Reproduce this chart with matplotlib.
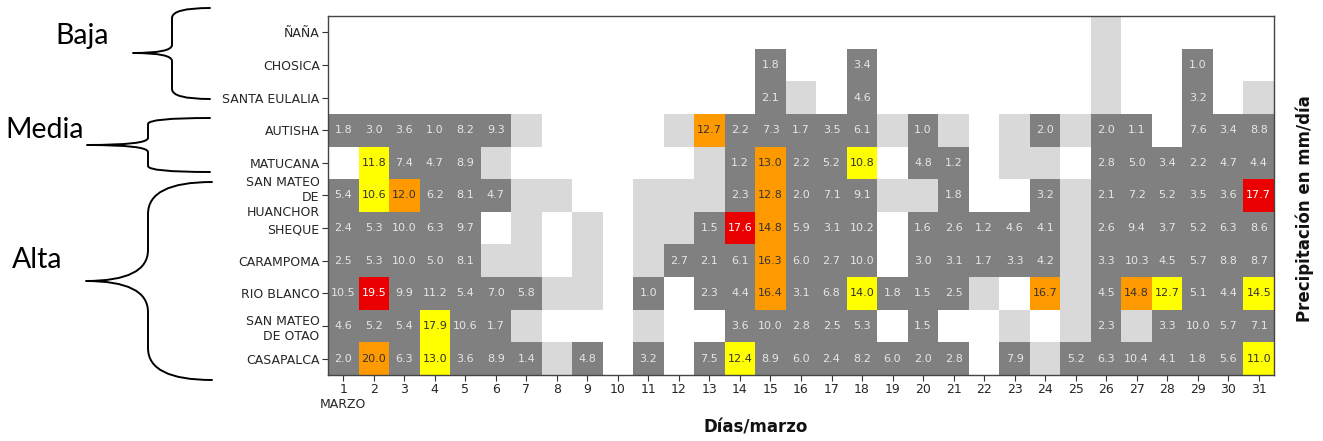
import numpy as np
import matplotlib
matplotlib.use("Agg")
import matplotlib.pyplot as plt
from matplotlib.colors import ListedColormap, BoundaryNorm
from matplotlib.path import Path
from matplotlib.patches import PathPatch

nan = np.nan

stations = ["ÑAÑA", "CHOSICA", "SANTA EULALIA", "AUTISHA", "MATUCANA",
            "SAN MATEO\nDE\nHUANCHOR", "SHEQUE", "CARAMPOMA", "RIO BLANCO",
            "SAN MATEO\nDE OTAO", "CASAPALCA"]
days = list(range(1, 32))

# nan = sin dato (blanco), 0 = sin lluvia (gris claro)
nana = [nan]*25 + [0] + [nan]*5
chosica = [nan]*14 + [1.8, nan, nan, 3.4] + [nan]*7 + [0, nan, nan, 1.0, nan, nan]
santa_eulalia = [nan]*14 + [2.1, 0, nan, 4.6] + [nan]*7 + [0, nan, nan, 3.2, nan, 0]
autisha = [1.8, 3.0, 3.6, 1.0, 8.2, 9.3, 0, nan, nan, nan, nan, 0, 12.7, 2.2, 7.3, 1.7,
           3.5, 6.1, 0, 1.0, 0, nan, 0, 2.0, 0, 2.0, 1.1, nan, 7.6, 3.4, 8.8]
matucana = [nan, 11.8, 7.4, 4.7, 8.9, 0, nan, nan, nan, nan, nan, nan, 0, 1.2, 13.0, 2.2,
            5.2, 10.8, nan, 4.8, 1.2, nan, 0, 0, nan, 2.8, 5.0, 3.4, 2.2, 4.7, 4.4]
huanchor = [5.4, 10.6, 12.0, 6.2, 8.1, 4.7, 0, 0, nan, nan, 0, 0, 0, 2.3, 12.8, 2.0,
            7.1, 9.1, 0, 0, 1.8, nan, nan, 3.2, 0, 2.1, 7.2, 5.2, 3.5, 3.6, 17.7]
sheque = [2.4, 5.3, 10.0, 6.3, 9.7, nan, 0, nan, 0, nan, 0, 0, 1.5, 17.6, 14.8, 5.9,
          3.1, 10.2, nan, 1.6, 2.6, 1.2, 4.6, 4.1, 0, 2.6, 9.4, 3.7, 5.2, 6.3, 8.6]
carampoma = [2.5, 5.3, 10.0, 5.0, 8.1, 0, 0, nan, 0, nan, 0, 2.7, 2.1, 6.1, 16.3, 6.0,
             2.7, 10.0, nan, 3.0, 3.1, 1.7, 3.3, 4.2, 0, 3.3, 10.3, 4.5, 5.7, 8.8, 8.7]
rio_blanco = [10.5, 19.5, 9.9, 11.2, 5.4, 7.0, 5.8, 0, 0, nan, 1.0, nan, 2.3, 4.4, 16.4, 3.1,
              6.8, 14.0, 1.8, 1.5, 2.5, 0, nan, 16.7, 0, 4.5, 14.8, 12.7, 5.1, 4.4, 14.5]
otao = [4.6, 5.2, 5.4, 17.9, 10.6, 1.7, 0, nan, nan, nan, 0, nan, nan, 3.6, 10.0, 2.8,
        2.5, 5.3, nan, 1.5, nan, nan, 0, nan, 0, 2.3, 0, 3.3, 10.0, 5.7, 7.1]
casapalca = [2.0, 20.0, 6.3, 13.0, 3.6, 8.9, 1.4, 0, 4.8, nan, 3.2, nan, 7.5, 12.4, 8.9, 6.0,
             2.4, 8.2, 6.0, 2.0, 2.8, nan, 7.9, 0, 5.2, 6.3, 10.4, 4.1, 1.8, 5.6, 11.0]

values = [nana, chosica, santa_eulalia, autisha, matucana, huanchor, sheque,
          carampoma, rio_blanco, otao, casapalca]

# resaltados: fila -> {día: clase}  (Y amarillo, O naranja, R rojo)
highlights = {
    3: {13: "O"},
    4: {2: "Y", 15: "O", 18: "Y"},
    5: {2: "Y", 3: "O", 15: "O", 31: "R"},
    6: {14: "R", 15: "O"},
    7: {15: "O"},
    8: {2: "R", 15: "O", 18: "Y", 24: "O", 27: "O", 28: "Y", 31: "Y"},
    9: {4: "Y"},
    10: {2: "O", 4: "Y", 14: "Y", 31: "Y"},
}

class_code = {"Y": 3, "O": 4, "R": 5}
colors = ["#ffffff", "#d9d9d9", "#808080", "#ffff00", "#ff9900", "#ea0000"]
text_colors = {2: "#e6e6e6", 3: "#333333", 4: "#333333", 5: "#ffffff"}

vals = np.array(values, dtype=float)
codes = np.zeros_like(vals)
for i in range(vals.shape[0]):
    for j in range(vals.shape[1]):
        v = vals[i, j]
        if np.isnan(v):
            codes[i, j] = 0
        elif v == 0:
            codes[i, j] = 1
        else:
            codes[i, j] = 2
    for d, c in highlights.get(i, {}).items():
        codes[i, d - 1] = class_code[c]

W, H = 1323, 441
fig = plt.figure(figsize=(W / 100, H / 100), dpi=100)
ax = fig.add_axes([328 / W, 1 - 375 / H, (1274 - 328) / W, (375 - 16) / H])

cmap = ListedColormap(colors)
norm = BoundaryNorm(np.arange(-0.5, 6.5, 1), cmap.N)
xe = np.arange(0.5, 32.5, 1)
ye = np.arange(-0.5, len(stations) + 0.5, 1)
ax.pcolormesh(xe, ye, codes, cmap=cmap, norm=norm)
ax.set_xlim(0.5, 31.5)
ax.set_ylim(len(stations) - 0.5, -0.5)

for i in range(vals.shape[0]):
    for j in range(vals.shape[1]):
        c = int(codes[i, j])
        if c >= 2:
            ax.text(days[j], i, f"{vals[i, j]:.1f}", ha="center", va="center",
                    fontsize=8, color=text_colors[c])

ax.set_yticks(range(len(stations)))
ax.set_yticklabels(stations, fontsize=9, color="#262626", multialignment="right")
ax.set_xticks(days)
xl = [str(d) for d in days]
xl[0] = "1\nMARZO"
ax.set_xticklabels(xl, fontsize=9, color="#262626", va="top")
ax.tick_params(axis="both", length=4, width=0.8, color="#333333", pad=2)
for s in ax.spines.values():
    s.set_color("#444444")
    s.set_linewidth(1.0)

# etiquetas de ejes
fig.text(756 / W, 1 - 428 / H, "Días/marzo", ha="center", va="center",
         fontsize=12, fontweight="bold", color="#111111")
fig.text(1305 / W, 1 - 209 / H, "Precipitación en mm/día", ha="center", va="center",
         rotation=90, fontsize=12, fontweight="bold", color="#111111")

# capa de anotaciones en píxeles
ov = fig.add_axes([0, 0, 1, 1], facecolor="none")
ov.set_xlim(0, W)
ov.set_ylim(H, 0)
ov.axis("off")


def brace(x_end, x_mid, x_tip, y_top, y_tip, y_bot, r1, r2):
    verts = [(x_end, y_top), (x_mid, y_top), (x_mid, y_top + r1),
             (x_mid, y_tip - r2), (x_mid, y_tip), (x_tip, y_tip),
             (x_mid, y_tip), (x_mid, y_tip + r2),
             (x_mid, y_bot - r1), (x_mid, y_bot), (x_end, y_bot)]
    codes_p = [Path.MOVETO, Path.CURVE3, Path.CURVE3,
               Path.LINETO, Path.CURVE3, Path.CURVE3,
               Path.CURVE3, Path.CURVE3,
               Path.LINETO, Path.CURVE3, Path.CURVE3]
    ov.add_patch(PathPatch(Path(verts, codes_p), fill=False, lw=1.4, color="black",
                           capstyle="round", joinstyle="round"))


brace(210, 172, 133, 8, 53, 99, 10, 8)
brace(210, 148, 87, 118, 145, 172, 6, 7)
brace(212, 148, 86, 182, 281, 380, 32, 31)

ov.text(82, 44, "Baja", ha="center", va="baseline", fontsize=20.5, family="Lato")
ov.text(45, 138, "Media", ha="center", va="baseline", fontsize=20.5, family="Lato")
ov.text(37, 268, "Alta", ha="center", va="baseline", fontsize=20.5, family="Lato")

fig.savefig("out.png", dpi=100)
